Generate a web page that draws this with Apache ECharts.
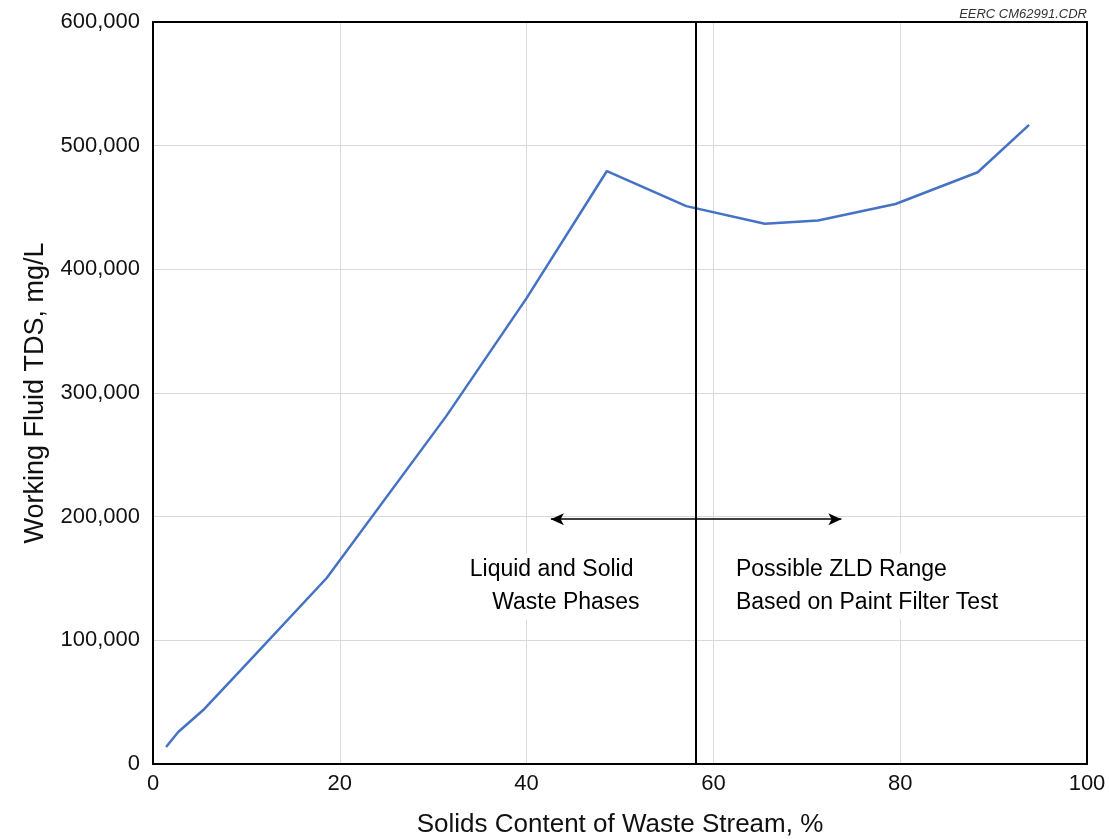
<!DOCTYPE html>
<html>
<head>
<meta charset="utf-8">
<script src="https://cdn.jsdelivr.net/npm/echarts@6/dist/echarts.min.js"></script>
<style>
html,body{margin:0;padding:0;background:#fff;}
#chart{width:1109px;height:839px;}
</style>
</head>
<body>
<div id="chart"></div>
<script>
// Data
const solidsPct = [1.4, 2.7, 5.5, 10.0, 18.6, 31.4, 40.0, 48.6, 57.1, 65.5, 71.2, 79.5, 88.3, 93.8];
const tdsMgL    = [13700, 25900, 44500, 80800, 150400, 281300, 376700, 479500, 451100, 436800, 439500, 452800, 478500, 516800];

const xTicks = [0, 20, 40, 60, 80, 100];
const yTicks = [0, 100000, 200000, 300000, 400000, 500000, 600000];

const dividerX = 58.1;
const arrowFrom = [42.6, 198000];
const arrowTo = [73.7, 198000];

const noteTexts = ['Liquid and Solid', 'Waste Phases', 'Possible ZLD Range', 'Based on Paint Filter Test'];
const noteX = [33.7, 36.1, 62.2, 62.2];
const noteY = [157000, 130300, 157000, 130300];

const xTitle = 'Solids Content of Waste Stream, %';
const yTitle = 'Working Fluid TDS, mg/L';
const stamp = 'EERC CM62991.CDR';

const FONT = '"Liberation Sans", Arial, sans-serif';

const chart = echarts.init(document.getElementById('chart'), null, {renderer: 'canvas'});

const frameAxis = {
  axisLine: {show: true, onZero: false, lineStyle: {color: '#000', width: 2}},
  axisTick: {show: false},
  axisLabel: {show: false},
  splitLine: {show: false}
};

const option = {
  backgroundColor: '#ffffff',
  animation: false,
  grid: {
    left: 153, right: 22, top: 22, bottom: 75,
    show: false,
    containLabel: false,
    outerBoundsMode: 'none'
  },
  xAxis: [
    {
      type: 'value',
      min: xTicks[0], max: xTicks[xTicks.length - 1], interval: 20,
      name: xTitle, nameLocation: 'middle', nameGap: 48,
      nameTextStyle: {fontFamily: FONT, fontSize: 26, color: '#111'},
      axisLine: {show: true, onZero: false, lineStyle: {color: '#000', width: 2}},
      axisTick: {show: false},
      axisLabel: {fontFamily: FONT, fontSize: 22, color: '#111', margin: 9},
      splitLine: {show: true, lineStyle: {color: '#d9d9d9', width: 1}}
    },
    Object.assign({type: 'value', position: 'top', min: 0, max: 100, interval: 20, z: 5}, frameAxis)
  ],
  yAxis: [
    {
      type: 'value',
      min: yTicks[0], max: yTicks[yTicks.length - 1], interval: 100000,
      name: yTitle, nameLocation: 'middle', nameGap: 104,
      nameTextStyle: {fontFamily: FONT, fontSize: 27, color: '#111'},
      axisLine: {show: true, onZero: false, lineStyle: {color: '#000', width: 2}},
      axisTick: {show: false},
      axisLabel: {
        fontFamily: FONT, fontSize: 22, color: '#111', margin: 13,
        formatter: v => v.toLocaleString('en-US')
      },
      splitLine: {show: true, lineStyle: {color: '#d9d9d9', width: 1}}
    },
    Object.assign({type: 'value', position: 'right', min: 0, max: 600000, interval: 100000, z: 5}, frameAxis)
  ],
  series: [
    {
      type: 'line',
      data: solidsPct.map((x, i) => [x, tdsMgL[i]]),
      showSymbol: false,
      symbol: 'none',
      lineStyle: {color: '#4472c4', width: 2.5},
      z: 3,
      markLine: {
        silent: true,
        animation: false,
        symbol: ['none', 'none'],
        label: {show: false},
        data: [
          {xAxis: dividerX, lineStyle: {color: '#000', width: 2, type: 'solid'}},
          [
            {coord: arrowFrom, symbol: 'arrow', symbolSize: [9, 13], lineStyle: {color: '#000', width: 1.5, type: 'solid'}},
            {coord: arrowTo, symbol: 'arrow', symbolSize: [9, 13]}
          ]
        ]
      }
    },
    {
      type: 'scatter',
      data: noteTexts.map((t, i) => ({name: t, value: [noteX[i], noteY[i]]})),
      symbolSize: 0,
      silent: true,
      z: 4,
      itemStyle: {opacity: 1},
      label: {
        show: true,
        position: 'inside',
        align: 'left',
        verticalAlign: 'middle',
        formatter: p => p.name,
        fontFamily: FONT,
        fontSize: 23,
        color: '#000',
        opacity: 1,
        backgroundColor: '#ffffff',
        padding: [5, 2, 5, 2]
      }
    }
  ],
  graphic: [
    {
      type: 'text',
      right: 22,
      top: 8,
      style: {
        text: stamp,
        font: 'italic 13px "Liberation Sans", Arial, sans-serif',
        fill: '#333'
      }
    }
  ]
};

chart.setOption(option);
</script>
</body>
</html>
